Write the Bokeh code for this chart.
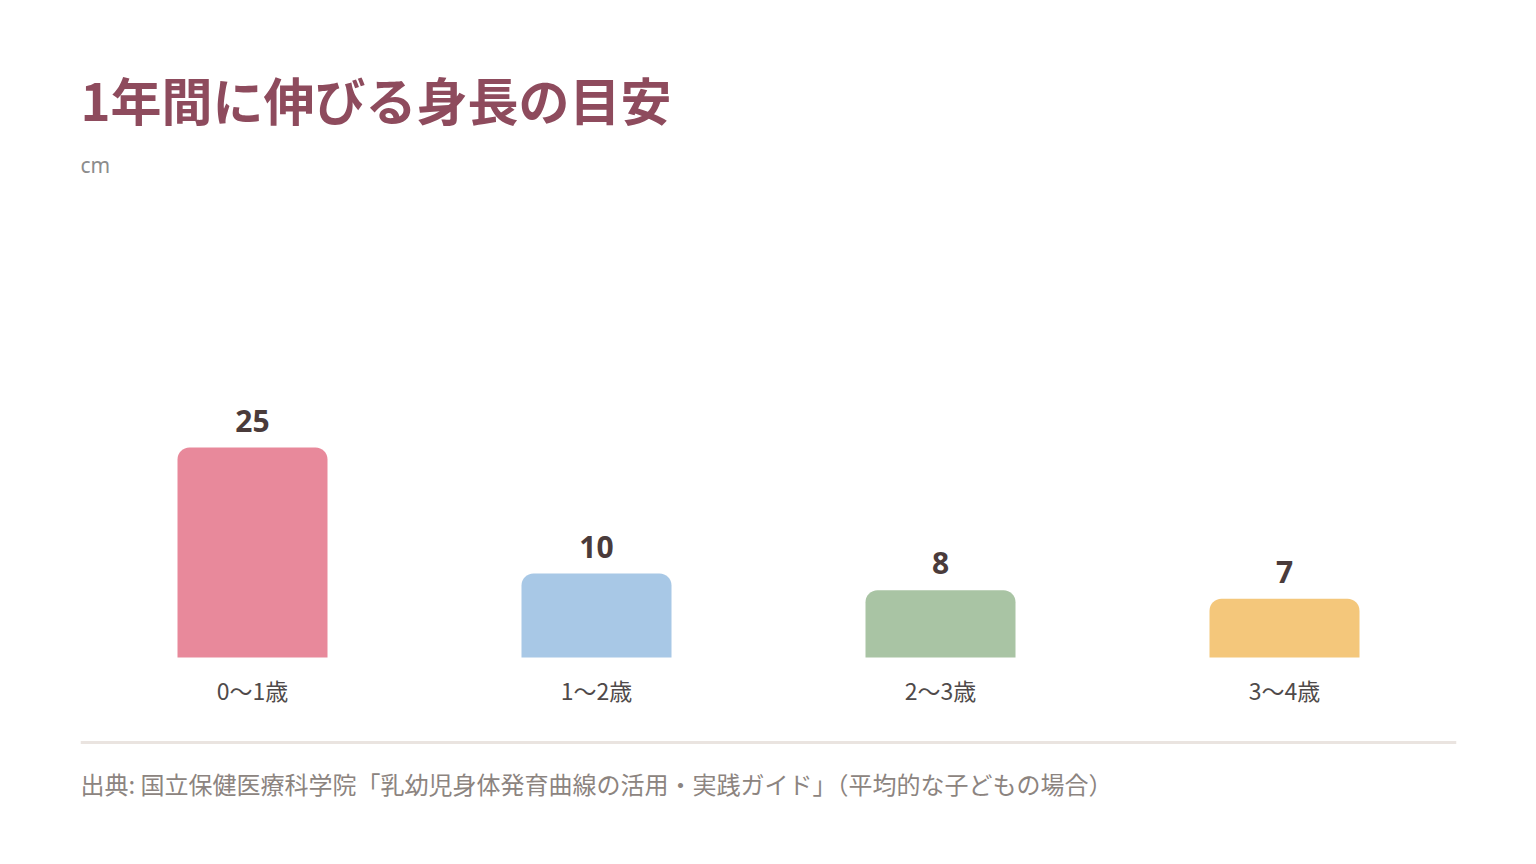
from bokeh.plotting import figure
from bokeh.models import FactorRange, Range1d, Label, ColumnDataSource
from bokeh.core.properties import value
from bokeh.embed import file_html
from bokeh.resources import INLINE

# ---- data ----
categories = ["0〜1歳", "1〜2歳", "2〜3歳", "3〜4歳"]
growth_cm = [25, 10, 8, 7]
value_labels = ["25", "10", "8", "7"]
bar_colors = ["#E8899B", "#A8C8E6", "#A9C4A4", "#F4C77B"]
title_text = "1年間に伸びる身長の目安"
unit_text = "cm"
source_text = "出典: 国立保健医療科学院「乳幼児身体発育曲線の活用・実践ガイド」（平均的な子どもの場合）"

# ---- layout constants (page pixels) ----
W, H = 1520, 846
PAGE = 0
FRAME_L, FRAME_R = 80, 1456
FRAME_T, FRAME_B = 40, 830
BASE = 657          # page y of bar baseline
PX = 8.4            # pixels per cm


def ydata(page_y):
    return (BASE - page_y) / PX


x_range = FactorRange(factors=categories, range_padding=0)
y_range = Range1d(ydata(FRAME_B), ydata(FRAME_T))

p = figure(width=W, height=H, x_range=x_range, y_range=y_range,
           output_backend="svg", toolbar_location=None,
           min_border_left=FRAME_L - PAGE, min_border_right=W - (FRAME_R - PAGE),
           min_border_top=FRAME_T - PAGE, min_border_bottom=H - (FRAME_B - PAGE))
p.title.visible = False
p.axis.visible = False
p.grid.visible = False
p.outline_line_color = None
p.background_fill_color = "white"
p.border_fill_color = "white"

src = ColumnDataSource(dict(cat=categories, val=growth_cm, lab=value_labels,
                            color=bar_colors, zero=[0] * len(categories)))

p.vbar(x="cat", top="val", bottom=0, width=150 / 344, source=src,
       fill_color="color", line_color=None,
       border_radius=(12, 12, 0, 0))

p.text(x="cat", y="val", text="lab", source=src, y_offset=-27,
       text_align="center", text_baseline="middle",
       text_font=value("Noto Sans"), text_font_style="bold",
       text_font_size="30px", text_color="#4A3B3B")

p.text(x="cat", y="zero", text="cat", source=src, y_offset=32,
       text_align="center", text_baseline="middle",
       text_font=value("Noto Sans CJK JP"),
       text_font_size="23px", text_color="#4F4A4A")

# divider
p.segment(x0=[0], x1=[4], y0=[ydata(742)], y1=[ydata(742)],
          line_color="#EAE4E0", line_width=3)

p.add_layout(Label(x=0, y=ydata(98), text=title_text,
                   text_font="Noto Sans CJK JP", text_font_style="bold",
                   text_font_size="51px", text_color="#8E4B5D",
                   text_baseline="middle", text_align="left"))
p.add_layout(Label(x=0, y=ydata(164), text=unit_text,
                   text_font="Noto Sans", text_font_size="21px",
                   text_color="#8C8C8C", text_baseline="middle", text_align="left"))
p.add_layout(Label(x=0, y=ydata(783), text=source_text,
                   text_font="Noto Sans CJK JP", text_font_size="24px",
                   text_color="#8C8480", text_baseline="middle", text_align="left"))

open("out.html", "w").write(file_html(p, INLINE))
